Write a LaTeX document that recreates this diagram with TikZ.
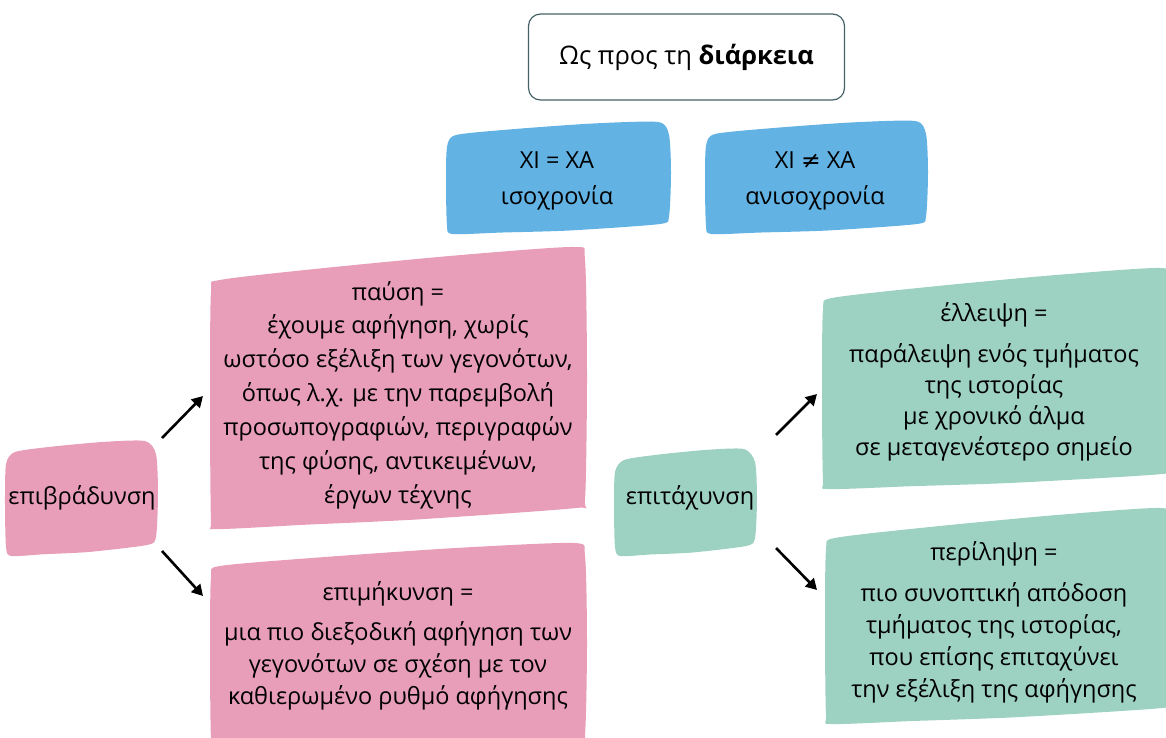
\documentclass[tikz,border=0pt]{standalone}
\usepackage{fontspec}
\setmainfont{Open Sans}
\newfontfamily\symfont{DejaVu Sans}
\usetikzlibrary{arrows.meta}
\definecolor{bluebox}{RGB}{98,178,228}
\definecolor{pinkbox}{RGB}{232,158,185}
\definecolor{greenbox}{RGB}{157,209,194}
\definecolor{titleline}{RGB}{70,98,104}
% #1 colour, #2 x left, #3 x right, #4 y top-left, #5 y top-right, #6 y bottom-left, #7 y bottom-right
\newcommand\brushbox[7]{%
  \fill[#1] plot[smooth cycle, tension=0.4] coordinates {
    ({#2},{#4+12})
    ({#2+9},{#4})
    ({#2+0.3*(#3-#2)},{#4+0.3*(#5-#4)-2})
    ({#2+0.65*(#3-#2)},{#4+0.65*(#5-#4)-3})
    ({#3-12},{#5})
    ({#3-1},{#5+13})
    ({#3+1},{0.5*(#5+#7)})
    ({#3-1},{#7-8})
    ({#3-10},{#7})
    ({#2+0.55*(#3-#2)},{#6+0.55*(#7-#6)+2})
    ({#2+0.25*(#3-#2)},{#6+0.25*(#7-#6)+1})
    ({#2+5},{#6})
    ({#2},{#6-9})
    ({#2-1},{0.5*(#4+#6)})
  };}
\tikzset{
  txt/.style={align=center, font=\fontsize{23.5}{34}\selectfont, inner sep=0pt},
  arr/.style={line width=2.6pt, -{Triangle[length=11pt,width=12pt]}},
}
\begin{document}
\begin{tikzpicture}[x=1pt,y=-1pt]
\useasboundingbox (0,0) rectangle (1166,738);
% title
\node[draw=titleline, line width=1.2pt, rounded corners=12pt, minimum width=316pt, minimum height=86pt, font=\fontsize{25.5}{30}\selectfont] (title) at (686.5,57) {Ως προς τη \textbf{διάρκεια}};
% blue boxes
\brushbox{bluebox}{447}{670}{135}{122}{234}{224}
\brushbox{bluebox}{706}{927}{134}{121}{234}{224}
\node[txt] (iso) at (557,181) {XI = XA\\[2pt]ισοχρονία};
\node[txt] (aniso) at (815,181) {XI {\symfont ≠} XA\\[2pt]ανισοχρονία};
% pink
\brushbox{pinkbox}{6}{157}{452}{441}{556}{545}
\brushbox{pinkbox}{211}{586}{280}{247}{529}{508}
\brushbox{pinkbox}{211}{586}{566}{543}{748}{742}
\node[txt] (epivr) at (82,498) {επιβράδυνση};
\node[txt] (pafsi) at (398,395) {παύση =\\[-1pt]έχουμε αφήγηση, χωρίς\\ωστόσο εξέλιξη των γεγονότων,\\όπως λ.χ. με την παρεμβολή\\προσωπογραφιών, περιγραφών\\της φύσης, αντικειμένων,\\έργων τέχνης};
\node[txt, font=\fontsize{23.5}{32}\selectfont] (epim) at (398,646) {επιμήκυνση =\\[8pt]μια πιο διεξοδική αφήγηση των\\γεγονότων σε σχέση με τον\\καθιερωμένο ρυθμό αφήγησης};
% green
\brushbox{greenbox}{615}{756}{460}{449}{556}{546}
\brushbox{greenbox}{823}{1172}{298}{268}{489}{474}
\brushbox{greenbox}{826}{1172}{538}{508}{724}{708}
\node[txt] (epit) at (690,498) {επιτάχυνση};
\node[txt, font=\fontsize{23.5}{31}\selectfont] (elleipsi) at (994,382) {έλλειψη =\\[10pt]παράλειψη ενός τμήματος\\της ιστορίας\\με χρονικό άλμα\\σε μεταγενέστερο σημείο};
\node[txt, font=\fontsize{23.5}{32}\selectfont] (perilipsi) at (994,622) {περίληψη =\\[9pt]πιο συνοπτική απόδοση\\τμήματος της ιστορίας,\\που επίσης επιταχύνει\\την εξέλιξη της αφήγησης};
% arrows
\coordinate (a1s) at (162,438); \coordinate (a1e) at (203,396);
\coordinate (a2s) at (162,551); \coordinate (a2e) at (203,596);
\coordinate (a3s) at (776,435); \coordinate (a3e) at (817,394);
\coordinate (a4s) at (776,548); \coordinate (a4e) at (817,590);
\draw[arr] (a1s) -- (a1e);
\draw[arr] (a2s) -- (a2e);
\draw[arr] (a3s) -- (a3e);
\draw[arr] (a4s) -- (a4e);
\end{tikzpicture}
\end{document}
